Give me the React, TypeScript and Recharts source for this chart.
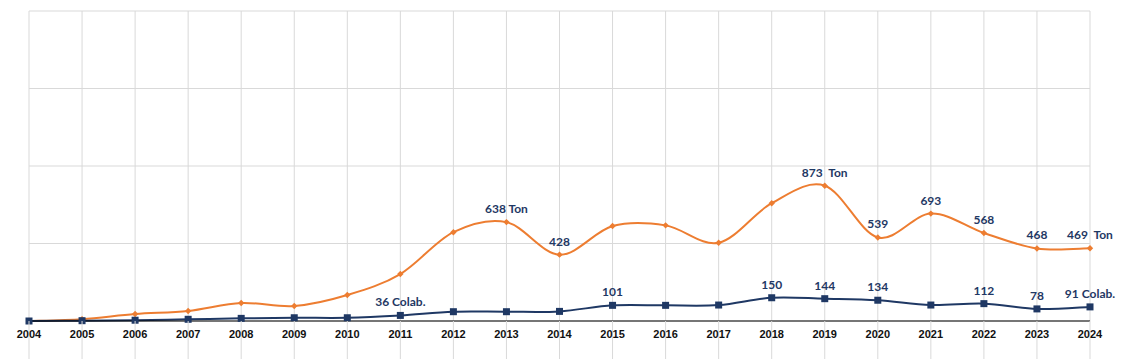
import React from "react";
import { LineChart, Line, XAxis, YAxis, CartesianGrid, LabelList } from "recharts";

const years = [
  "2004", "2005", "2006", "2007", "2008", "2009", "2010", "2011", "2012", "2013", "2014",
  "2015", "2016", "2017", "2018", "2019", "2020", "2021", "2022", "2023", "2024",
];

const tonValues = [
  0, 12, 45, 65, 116, 97, 168, 303, 573, 638, 428,
  613, 617, 505, 760, 873, 539, 693, 568, 468, 469,
];

const colabValues = [
  0, 2, 5, 11, 17, 21, 21, 36, 60, 60, 62,
  101, 101, 103, 150, 144, 134, 103, 112, 78, 91,
];

const tonLabels = [
  null, null, null, null, null, null, null, null, null, "638 Ton", "428",
  null, null, null, null, "873  Ton", "539", "693", "568", "468", "469  Ton",
];

const colabLabels = [
  null, null, null, null, null, null, null, "36 Colab.", null, null, null,
  "101", null, null, "150", "144", "134", null, "112", "78", "91 Colab.",
];

const yTicks = [0, 500, 1000, 1500, 2000];
const yMax = 2000;

const data = years.map((year, i) => ({
  year,
  ton: tonValues[i],
  colab: colabValues[i],
  tonLabel: tonLabels[i],
  colabLabel: colabLabels[i],
}));

const ORANGE = "#ED7D31";
const NAVY = "#1F3864";
const GRID = "#d9d9d9";

// smoothing similar to the spreadsheet "smoothed line" option
function smoothCurve(context: any) {
  let pts: [number, number][] = [];
  return {
    areaStart() {},
    areaEnd() {},
    lineStart() {
      pts = [];
    },
    lineEnd() {
      const n = pts.length;
      if (!n) return;
      context.moveTo(pts[0][0], pts[0][1]);
      for (let i = 0; i < n - 1; i++) {
        const p0 = pts[Math.max(i - 1, 0)];
        const p1 = pts[i];
        const p2 = pts[i + 1];
        const p3 = pts[Math.min(i + 2, n - 1)];
        context.bezierCurveTo(
          p1[0] + (p2[0] - p0[0]) / 6,
          p1[1] + (p2[1] - p0[1]) / 6,
          p2[0] - (p3[0] - p1[0]) / 6,
          p2[1] - (p3[1] - p1[1]) / 6,
          p2[0],
          p2[1]
        );
      }
    },
    point(x: number, y: number) {
      pts.push([x, y]);
    },
  };
}

// horizontal grid from the y ticks, whatever shape the axis scale has
function gridRows({ yAxis, offset }: any) {
  const s = yAxis && yAxis.scale;
  if (typeof s === "function") return yTicks.map((t) => s(t));
  if (s && typeof s.map === "function") return yTicks.map((t) => s.map(t));
  return yTicks.map((t) => offset.top + offset.height * (1 - t / yMax));
}

function YearTick({ x, y, payload }: any) {
  return (
    <g>
      <line x1={x} x2={x} y1={y} y2={y + 40} stroke={GRID} />
      <text
        x={x}
        y={y + 17}
        textAnchor="middle"
        fontFamily="Liberation Sans, Arial, sans-serif"
        fontWeight={700}
        fontSize={11}
        fill="#111"
      >
        {payload.value}
      </text>
    </g>
  );
}

function Diamond({ cx, cy }: any) {
  if (cx == null || cy == null) return null;
  const r = 3.2;
  return (
    <polygon
      points={`${cx},${cy - r} ${cx + r},${cy} ${cx},${cy + r} ${cx - r},${cy}`}
      fill={ORANGE}
    />
  );
}

function Square({ cx, cy }: any) {
  if (cx == null || cy == null) return null;
  return <rect x={cx - 3.5} y={cy - 3.5} width={7} height={7} fill={NAVY} />;
}

function PointLabel({ x, y, value }: any) {
  if (!value) return null;
  return (
    <text
      x={x}
      y={y - 9}
      textAnchor="middle"
      fontFamily="Lato, 'Open Sans', sans-serif"
      fontWeight={700}
      fontSize={12}
      fill={NAVY}
      style={{ whiteSpace: "pre" }}
    >
      {value}
    </text>
  );
}

export default function App() {
  return (
    <div>
      <style>{`body{margin:0;overflow:hidden;background:#fff}`}</style>
      <LineChart
        width={1130}
        height={359}
        data={data}
        margin={{ top: 11, right: 40, left: 29, bottom: 0 }}
      >
        <CartesianGrid stroke={GRID} horizontalCoordinatesGenerator={gridRows} />
        <XAxis
          dataKey="year"
          height={38}
          interval={0}
          tickSize={0}
          tickMargin={0}
          tickLine={false}
          axisLine={{ stroke: "#000" }}
          tick={<YearTick />}
        />
        <YAxis
          width={0}
          domain={[0, yMax]}
          ticks={yTicks}
          tick={false}
          tickLine={false}
          axisLine={false}
        />
        <Line
          dataKey="ton"
          type={smoothCurve as any}
          stroke={ORANGE}
          strokeWidth={2}
          dot={<Diamond />}
          activeDot={false}
          isAnimationActive={false}
        >
          <LabelList dataKey="tonLabel" content={<PointLabel />} />
        </Line>
        <Line
          dataKey="colab"
          type={smoothCurve as any}
          stroke={NAVY}
          strokeWidth={2}
          dot={<Square />}
          activeDot={false}
          isAnimationActive={false}
        >
          <LabelList dataKey="colabLabel" content={<PointLabel />} />
        </Line>
      </LineChart>
    </div>
  );
}
